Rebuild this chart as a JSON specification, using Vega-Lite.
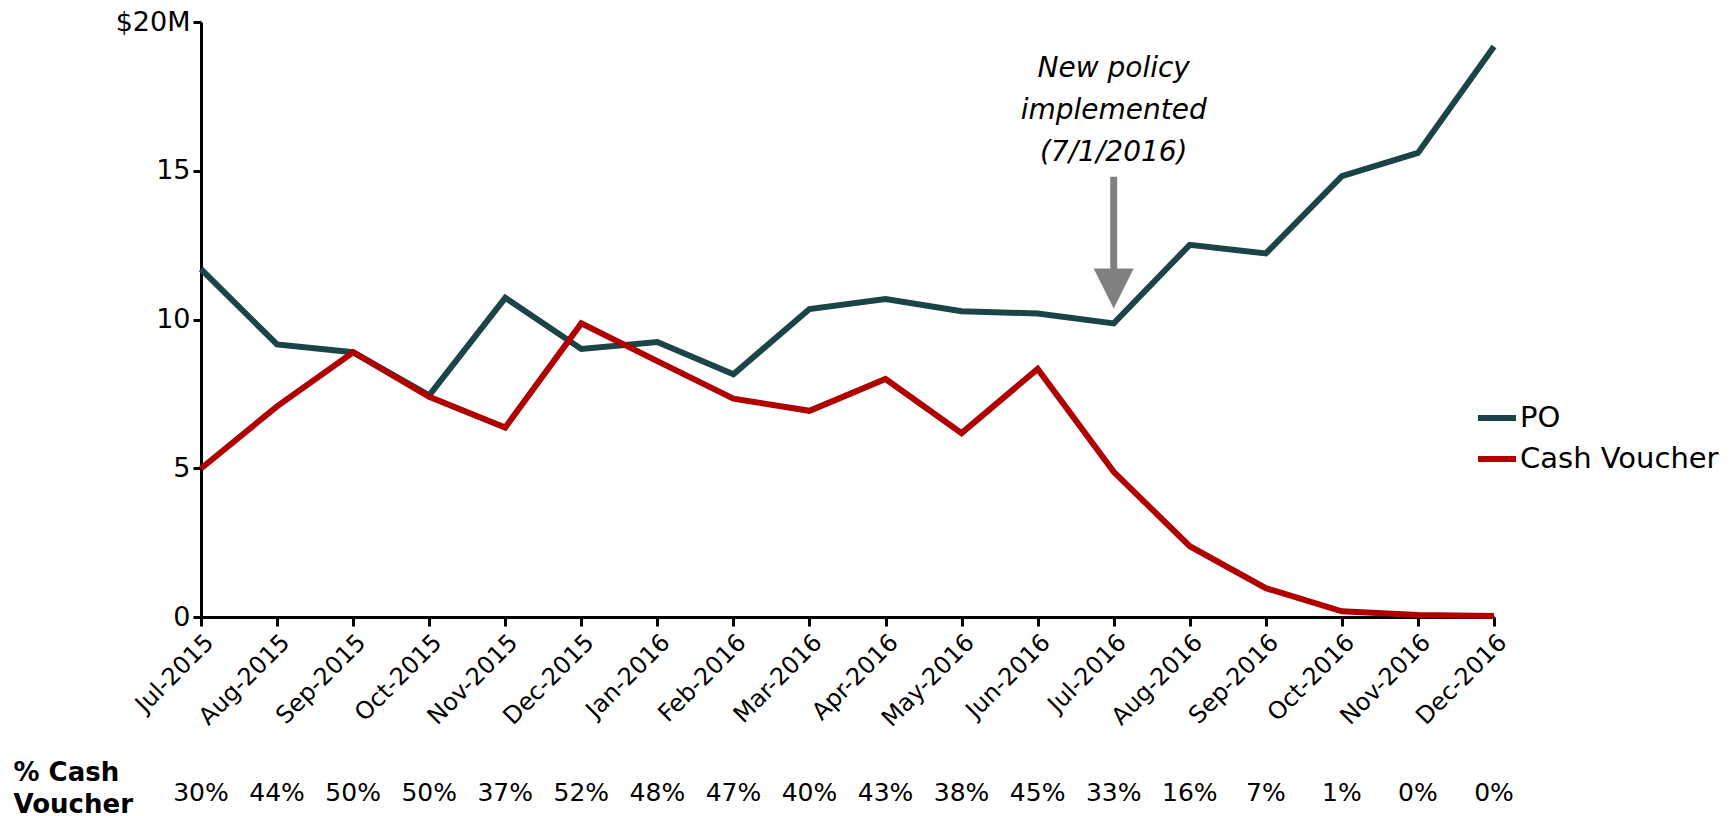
{
  "$schema": "https://vega.github.io/schema/vega-lite/v6.json",
  "padding": {"left": 13, "top": 8, "right": 5, "bottom": 0},
  "background": "white",
  "config": {
    "font": "DejaVu Sans",
    "view": {"stroke": null},
    "axis": {"labelColor": "black", "domainColor": "black", "tickColor": "black", "grid": false, "title": null}
  },
  "spacing": 27,
  "resolve": {"scale": {"x": "independent", "y": "independent"}},
  "vconcat": [
    {
      "width": 1293,
      "height": 595,
      "layer": [
        {
          "data": {
            "values": [
              {"month": "Jul-2015", "series": "PO", "value": 11.69},
              {"month": "Aug-2015", "series": "PO", "value": 9.16},
              {"month": "Sep-2015", "series": "PO", "value": 8.9},
              {"month": "Oct-2015", "series": "PO", "value": 7.45},
              {"month": "Nov-2015", "series": "PO", "value": 10.73},
              {"month": "Dec-2015", "series": "PO", "value": 9.01},
              {"month": "Jan-2016", "series": "PO", "value": 9.24},
              {"month": "Feb-2016", "series": "PO", "value": 8.16},
              {"month": "Mar-2016", "series": "PO", "value": 10.35},
              {"month": "Apr-2016", "series": "PO", "value": 10.69},
              {"month": "May-2016", "series": "PO", "value": 10.28},
              {"month": "Jun-2016", "series": "PO", "value": 10.2},
              {"month": "Jul-2016", "series": "PO", "value": 9.87},
              {"month": "Aug-2016", "series": "PO", "value": 12.51},
              {"month": "Sep-2016", "series": "PO", "value": 12.22},
              {"month": "Oct-2016", "series": "PO", "value": 14.82},
              {"month": "Nov-2016", "series": "PO", "value": 15.6},
              {"month": "Dec-2016", "series": "PO", "value": 19.18},
              {"month": "Jul-2015", "series": "Cash Voucher", "value": 4.99},
              {"month": "Aug-2015", "series": "Cash Voucher", "value": 7.08},
              {"month": "Sep-2015", "series": "Cash Voucher", "value": 8.9},
              {"month": "Oct-2015", "series": "Cash Voucher", "value": 7.4},
              {"month": "Nov-2015", "series": "Cash Voucher", "value": 6.37},
              {"month": "Dec-2015", "series": "Cash Voucher", "value": 9.87},
              {"month": "Jan-2016", "series": "Cash Voucher", "value": 8.6},
              {"month": "Feb-2016", "series": "Cash Voucher", "value": 7.34},
              {"month": "Mar-2016", "series": "Cash Voucher", "value": 6.93},
              {"month": "Apr-2016", "series": "Cash Voucher", "value": 8.0},
              {"month": "May-2016", "series": "Cash Voucher", "value": 6.18},
              {"month": "Jun-2016", "series": "Cash Voucher", "value": 8.34},
              {"month": "Jul-2016", "series": "Cash Voucher", "value": 4.88},
              {"month": "Aug-2016", "series": "Cash Voucher", "value": 2.38},
              {"month": "Sep-2016", "series": "Cash Voucher", "value": 0.97},
              {"month": "Oct-2016", "series": "Cash Voucher", "value": 0.19},
              {"month": "Nov-2016", "series": "Cash Voucher", "value": 0.07},
              {"month": "Dec-2016", "series": "Cash Voucher", "value": 0.03}
            ]
          },
          "mark": {"type": "line", "strokeWidth": 6, "clip": false},
          "encoding": {
            "x": {
              "field": "month", "type": "ordinal",
              "scale": {"type": "point", "padding": 0, "domain": ["Jul-2015", "Aug-2015", "Sep-2015", "Oct-2015", "Nov-2015", "Dec-2015", "Jan-2016", "Feb-2016", "Mar-2016", "Apr-2016", "May-2016", "Jun-2016", "Jul-2016", "Aug-2016", "Sep-2016", "Oct-2016", "Nov-2016", "Dec-2016"]},
              "axis": {"labelAngle": -45, "labelFontSize": 24, "tickSize": 9, "tickWidth": 3, "domainWidth": 3, "labelPadding": 4}
            },
            "y": {
              "field": "value", "type": "quantitative",
              "scale": {"domain": [0, 20], "nice": false},
              "axis": {"values": [0, 5, 10, 15, 20], "labelExpr": "datum.value == 20 ? '$20M' : datum.label", "labelFontSize": 27, "tickSize": 8, "tickWidth": 3, "domainWidth": 3, "labelPadding": 3}
            },
            "color": {
              "field": "series", "type": "nominal",
              "scale": {"domain": ["PO", "Cash Voucher"], "range": ["#1a4447", "#b00000"]},
              "legend": {
                "title": null, "orient": "none", "legendX": 1274, "legendY": 374,
                "symbolType": "stroke", "symbolSize": 1444, "symbolStrokeWidth": 6,
                "labelFontSize": 29, "labelColor": "black", "labelOffset": 1, "labelLimit": 400, "rowPadding": 4, "padding": 0
              }
            }
          }
        },
        {
          "data": {"values": [{"month": "Jul-2016"}]},
          "mark": {"type": "rule", "color": "#808080", "strokeWidth": 7},
          "encoding": {
            "x": {"field": "month", "type": "ordinal"},
            "y": {"datum": 14.8},
            "y2": {"datum": 11.5}
          }
        },
        {
          "data": {"values": [{"month": "Jul-2016"}]},
          "mark": {"type": "point", "shape": "M-1,-1L1,-1L0,1Z", "size": 1600, "filled": true, "color": "#808080", "opacity": 1},
          "encoding": {
            "x": {"field": "month", "type": "ordinal"},
            "y": {"datum": 11.04}
          }
        },
        {
          "data": {"values": [{"month": "Jul-2016"}]},
          "mark": {"type": "text", "text": ["New policy", "implemented", "(7/1/2016)"], "fontStyle": "italic", "fontSize": 28, "lineHeight": 42, "align": "center", "baseline": "middle", "color": "black"},
          "encoding": {
            "x": {"field": "month", "type": "ordinal"},
            "y": {"datum": 18.42}
          }
        }
      ]
    },
    {
      "width": 1293,
      "height": 40,
      "data": {
        "values": [
          {"month": "Jul-2015", "pct": "30%", "row": "% Cash Voucher"},
          {"month": "Aug-2015", "pct": "44%", "row": "% Cash Voucher"},
          {"month": "Sep-2015", "pct": "50%", "row": "% Cash Voucher"},
          {"month": "Oct-2015", "pct": "50%", "row": "% Cash Voucher"},
          {"month": "Nov-2015", "pct": "37%", "row": "% Cash Voucher"},
          {"month": "Dec-2015", "pct": "52%", "row": "% Cash Voucher"},
          {"month": "Jan-2016", "pct": "48%", "row": "% Cash Voucher"},
          {"month": "Feb-2016", "pct": "47%", "row": "% Cash Voucher"},
          {"month": "Mar-2016", "pct": "40%", "row": "% Cash Voucher"},
          {"month": "Apr-2016", "pct": "43%", "row": "% Cash Voucher"},
          {"month": "May-2016", "pct": "38%", "row": "% Cash Voucher"},
          {"month": "Jun-2016", "pct": "45%", "row": "% Cash Voucher"},
          {"month": "Jul-2016", "pct": "33%", "row": "% Cash Voucher"},
          {"month": "Aug-2016", "pct": "16%", "row": "% Cash Voucher"},
          {"month": "Sep-2016", "pct": "7%", "row": "% Cash Voucher"},
          {"month": "Oct-2016", "pct": "1%", "row": "% Cash Voucher"},
          {"month": "Nov-2016", "pct": "0%", "row": "% Cash Voucher"},
          {"month": "Dec-2016", "pct": "0%", "row": "% Cash Voucher"}
        ]
      },
      "mark": {"type": "text", "fontSize": 25, "color": "black", "baseline": "middle"},
      "encoding": {
        "x": {"field": "month", "type": "ordinal", "sort": null, "scale": {"type": "point", "padding": 0}, "axis": null},
        "y": {
          "field": "row", "type": "nominal",
          "axis": {"domain": false, "ticks": false, "tickSize": 0, "labelExpr": "['% Cash', 'Voucher']", "labelFontWeight": "bold", "labelFontSize": 26, "labelAlign": "left", "labelPadding": 188, "labelLineHeight": 32, "labelBaseline": "middle", "labelOffset": -21}
        },
        "text": {"field": "pct"}
      }
    }
  ]
}
